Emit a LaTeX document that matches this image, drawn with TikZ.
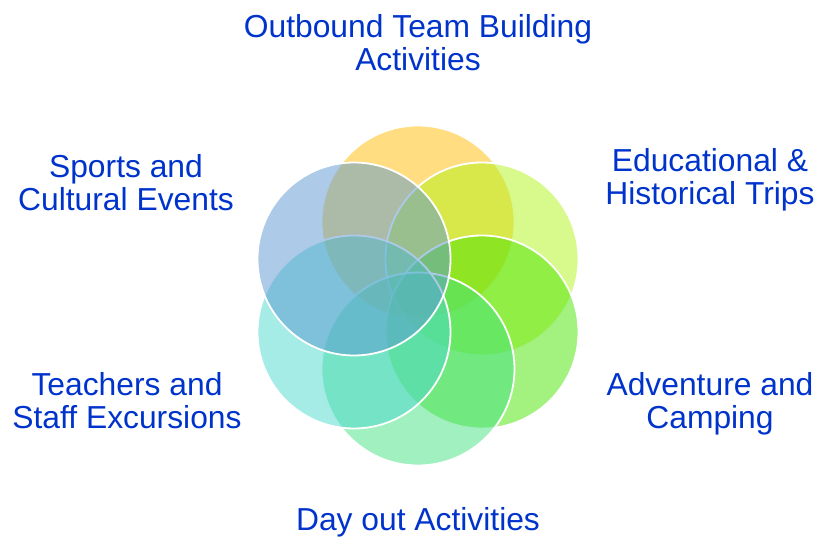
\documentclass[tikz,border=0pt]{standalone}
\usepackage{fontspec}
\setmainfont{Liberation Sans}
\usetikzlibrary{positioning}
\definecolor{petalgold}{RGB}{255,187,1}
\definecolor{petallime}{RGB}{177,243,24}
\definecolor{petalgreen}{RGB}{72,227,0}
\definecolor{petalmint}{RGB}{65,225,129}
\definecolor{petalcyan}{RGB}{75,215,205}
\definecolor{petalblue}{RGB}{91,151,209}
\definecolor{labelblue}{RGB}{0,51,204}
\begin{document}
\begin{tikzpicture}[x=1pt,y=-1pt,
	petal/.style={circle,draw=white,line width=1.8pt,fill opacity=0.5,minimum size=193pt,inner sep=0pt},
	caption/.style={align=center,text=labelblue,font=\fontsize{31.8}{33}\selectfont,inner sep=0pt,anchor=base}]
	\useasboundingbox (0,0) rectangle (823,537);
	% petals, drawn from the top clockwise
	\node (outbound) at (418,222) [petal,fill=petalgold] {};
	\node (educational) at (482,259) [petal,fill=petallime] {};
	\node (adventure) at (482,332) [petal,fill=petalgreen] {};
	\node (dayout) at (418,369) [petal,fill=petalmint] {};
	\node (teachers) at (354,332) [petal,fill=petalcyan] {};
	\node (sports) at (354,259) [petal,fill=petalblue] {};
	% captions (base = last line)
	\node (outboundtext) at (418,71) [caption] {Outbound Team Building\\Activities};
	\node (educationaltext) at (710,205) [caption] {Educational \&\\Historical Trips};
	\node (adventuretext) at (710,429) [caption] {Adventure and\\Camping};
	\node (dayouttext) at (418,530) [caption] {Day out Activities};
	\node (teacherstext) at (127,429) [caption] {Teachers and\\Staff Excursions};
	\node (sportstext) at (126,211) [caption] {Sports and\\Cultural Events};
\end{tikzpicture}
\end{document}
